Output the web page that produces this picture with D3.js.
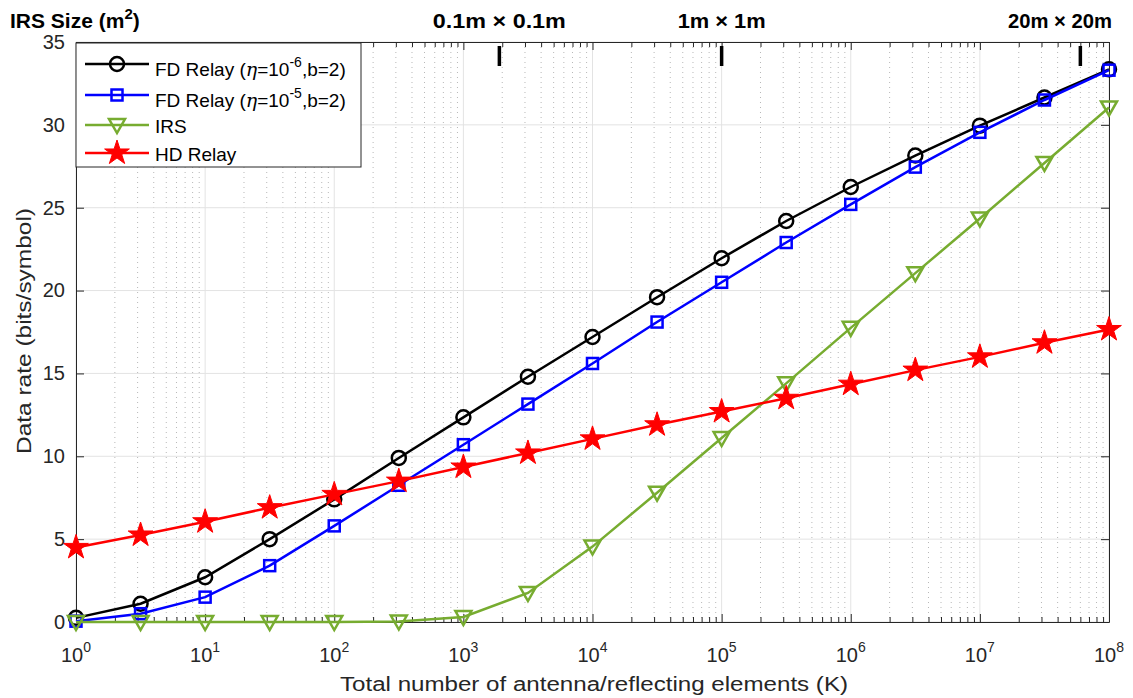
<!DOCTYPE html>
<html lang="en">
<head>
    <meta charset="UTF-8">
    <title>Data rate vs number of elements</title>
    <script src="https://d3js.org/d3.v7.min.js"></script>
    <style>
        body{margin:0;background:#fff;}
        svg{width:1133px;height:698px;font-family:"Liberation Sans",Arial,sans-serif;}
        .axis path,.axis line{stroke:#262626;}
        .axis text{fill:#262626;font-size:20px;}
    </style>
</head>
<body>
<svg viewBox="0 0 1133 698"></svg>

<script>
    // K values: 10^0 .. 10^8 in half-decade steps
    const exps = [0,0.5,1,1.5,2,2.5,3,3.5,4,4.5,5,5.5,6,6.5,7,7.5,8]
    const K = exps.map(e => Math.pow(10, e))

    // rates
    const fd6  = [0.25,1.1,2.7,5.0,7.4,9.9,12.35,14.8,17.2,19.6,21.95,24.2,26.25,28.15,29.95,31.65,33.35]
    const fd5  = [0.05,0.5,1.5,3.4,5.8,8.25,10.7,13.15,15.6,18.1,20.5,22.9,25.2,27.45,29.55,31.5,33.3]
    const irs  = [0,0,0,0,0,0.03,0.3,1.75,4.55,7.8,11.1,14.4,17.75,21.05,24.35,27.7,31.05]
    const hd   = [4.5,5.25,6.05,6.9,7.7,8.5,9.35,10.2,11.05,11.9,12.7,13.5,14.35,15.2,16.0,16.85,17.65]

    const yTicks = [0,5,10,15,20,25,30,35]
    const xDecades = [0,1,2,3,4,5,6,7,8]
    // IRS size marks on the top axis (K position, label)
    const sizeK = [1.9e3, 1e5, 6e7]
    const sizeLabels = ["0.1m \u00d7 0.1m", "1m \u00d7 1m", "20m \u00d7 20m"]

    const series = [
        {name:"FD6", values:fd6, color:"#000000", marker:"circle"},
        {name:"FD5", values:fd5, color:"#0000ff", marker:"square"},
        {name:"IRS", values:irs, color:"#77ac30", marker:"triangle"},
        {name:"HD",  values:hd,  color:"#ff0000", marker:"star"}
    ]

    const svg = d3.select("svg")
    const pLeft = 76, pRight = 1109, pTop = 42, pBottom = 622
    const x = d3.scaleLog().domain([1,1e8]).range([pLeft,pRight])
    const y = d3.scaleLinear().domain([0,35]).range([pBottom,pTop])

    // minor values 2..9 per decade
    const minor = []
    for (let d = 0; d < 8; d++) for (let m = 2; m <= 9; m++) minor.push(m*Math.pow(10,d))

    // grid
    const grid = svg.append("g")
    grid.selectAll(".mg").data(minor).enter().append("line")
        .attr("x1",d=>x(d)).attr("x2",d=>x(d)).attr("y1",pTop).attr("y2",pBottom)
        .attr("stroke","#b8b8b8").attr("stroke-width",1).attr("stroke-dasharray","1,4")
    grid.selectAll(".vg").data(xDecades).enter().append("line")
        .attr("x1",d=>x(Math.pow(10,d))).attr("x2",d=>x(Math.pow(10,d))).attr("y1",pTop).attr("y2",pBottom)
        .attr("stroke","#e3e3e3").attr("stroke-width",1)
    grid.selectAll(".hg").data(yTicks).enter().append("line")
        .attr("x1",pLeft).attr("x2",pRight).attr("y1",d=>y(d)).attr("y2",d=>y(d))
        .attr("stroke","#e3e3e3").attr("stroke-width",1)

    // axes (ticks pointing inward)
    svg.append("g").attr("class","axis").attr("transform",`translate(0,${pBottom})`)
        .call(d3.axisBottom(x).tickValues(xDecades.map(d=>Math.pow(10,d))).tickSizeInner(-8).tickSizeOuter(0).tickFormat(""))
    svg.append("g").attr("class","axis").attr("transform",`translate(0,${pBottom})`)
        .call(d3.axisBottom(x).tickValues(minor).tickSizeInner(-5).tickSizeOuter(0).tickFormat(""))
        .select(".domain").remove()
    svg.append("g").attr("class","axis").attr("transform",`translate(0,${pTop})`)
        .call(d3.axisTop(x).tickValues(xDecades.map(d=>Math.pow(10,d))).tickSizeInner(-8).tickSizeOuter(0).tickFormat(""))
    svg.append("g").attr("class","axis").attr("transform",`translate(0,${pTop})`)
        .call(d3.axisTop(x).tickValues(minor).tickSizeInner(-5).tickSizeOuter(0).tickFormat(""))
        .select(".domain").remove()
    svg.append("g").attr("class","axis").attr("transform",`translate(${pLeft},0)`)
        .call(d3.axisLeft(y).tickValues(yTicks).tickSizeInner(-8).tickSizeOuter(0).tickPadding(11))
    svg.append("g").attr("class","axis").attr("transform",`translate(${pRight},0)`)
        .call(d3.axisRight(y).tickValues(yTicks).tickSizeInner(-8).tickSizeOuter(0).tickFormat(""))

    // 10^n labels
    const xl = svg.append("g").attr("fill","#262626").attr("font-size",20)
    xDecades.forEach(d => {
        const t = xl.append("text").attr("x",x(Math.pow(10,d))).attr("y",pBottom+40).attr("text-anchor","middle")
        t.append("tspan").text("10")
        t.append("tspan").attr("dy",-10).attr("font-size",14).text(d)
    })

    svg.append("text").attr("x",594).attr("y",691).attr("text-anchor","middle")
        .attr("font-size",20).attr("fill","#262626")
        .attr("textLength",508).attr("lengthAdjust","spacingAndGlyphs")
        .text("Total number of antenna/reflecting elements (K)")
    svg.append("text").attr("transform",`translate(31,331) rotate(-90)`).attr("text-anchor","middle")
        .attr("font-size",20).attr("fill","#262626")
        .attr("textLength",246).attr("lengthAdjust","spacingAndGlyphs")
        .text("Data rate (bits/symbol)")

    // top annotations
    const ttl = svg.append("text").attr("x",10).attr("y",28).attr("font-size",21).attr("font-weight","bold").attr("fill","#000")
    ttl.append("tspan").text("IRS Size (m")
    ttl.append("tspan").attr("dy",-9).attr("font-size",15).text("2")
    ttl.append("tspan").attr("dy",9).text(")")
    svg.selectAll(".sz").data(sizeK).enter().append("line")
        .attr("x1",d=>x(d)).attr("x2",d=>x(d)).attr("y1",pTop+4).attr("y2",pTop+24)
        .attr("stroke","#000").attr("stroke-width",3.5)
    const sizeW = [133, 88, 104]
    svg.selectAll(".szl").data(sizeK).enter().append("text")
        .attr("x",(d,i)=> i===2 ? 1112 : x(d)).attr("y",28)
        .attr("text-anchor",(d,i)=> i===2 ? "end" : "middle")
        .attr("font-size",20).attr("font-weight","bold").attr("fill","#000")
        .attr("textLength",(d,i)=>sizeW[i]).attr("lengthAdjust","spacingAndGlyphs")
        .text((d,i)=>sizeLabels[i])

    // markers
    const star = d3.symbol().type(d3.symbolStar).size(190)
    function drawMarker(g, s, cx, cy) {
        if (s.marker==="circle") {
            g.append("circle").attr("cx",cx).attr("cy",cy).attr("r",7)
                .attr("fill","none").attr("stroke",s.color).attr("stroke-width",2.5)
        } else if (s.marker==="square") {
            g.append("rect").attr("x",cx-5.5).attr("y",cy-5.5).attr("width",11).attr("height",11)
                .attr("fill","none").attr("stroke",s.color).attr("stroke-width",2.5)
        } else if (s.marker==="triangle") {
            g.append("path").attr("d",`M${cx-8},${cy-6}L${cx+8},${cy-6}L${cx},${cy+8}Z`)
                .attr("fill","none").attr("stroke",s.color).attr("stroke-width",2.5)
        } else {
            g.append("path").attr("d",star).attr("transform",`translate(${cx},${cy})`)
                .attr("fill",s.color).attr("stroke",s.color).attr("stroke-width",1)
        }
    }

    const line = d3.line().x(d=>x(d[0])).y(d=>y(d[1]))
    series.forEach(s => {
        const g = svg.append("g")
        const pts = K.map((k,i)=>[k,s.values[i]])
        g.append("path").attr("d",line(pts)).attr("fill","none")
            .attr("stroke",s.color).attr("stroke-width",2.5)
        pts.forEach(p => drawMarker(g, s, x(p[0]), y(p[1])))
    })

    // legend
    const lg = svg.append("g")
    lg.append("rect").attr("x",pLeft).attr("y",43).attr("width",285).attr("height",124)
        .attr("fill","#fff").attr("stroke","#262626").attr("stroke-width",1)
    const rowsY = [64,95,125,153]
    const textY = [76,107,133,161]
    series.forEach((s,i) => {
        const yy = rowsY[i]
        lg.append("line").attr("x1",85).attr("x2",149).attr("y1",yy).attr("y2",yy)
            .attr("stroke",s.color).attr("stroke-width",2.5)
        drawMarker(lg, s, 117, yy)
        const t = lg.append("text").attr("x",155).attr("y",textY[i]).attr("font-size",19).attr("fill","#000")
        if (i < 2) {
            t.append("tspan").text("FD Relay (")
            t.append("tspan").attr("font-style","italic").attr("font-family","DejaVu Serif").text("\u03b7")
            t.append("tspan").text("=10")
            t.append("tspan").attr("dy",-9).attr("font-size",14).text(i===0 ? "-6" : "-5")
            t.append("tspan").attr("dy",9).text(",b=2)")
        } else {
            t.text(i===2 ? "IRS" : "HD Relay")
        }
    })
</script>
</body>
</html>
